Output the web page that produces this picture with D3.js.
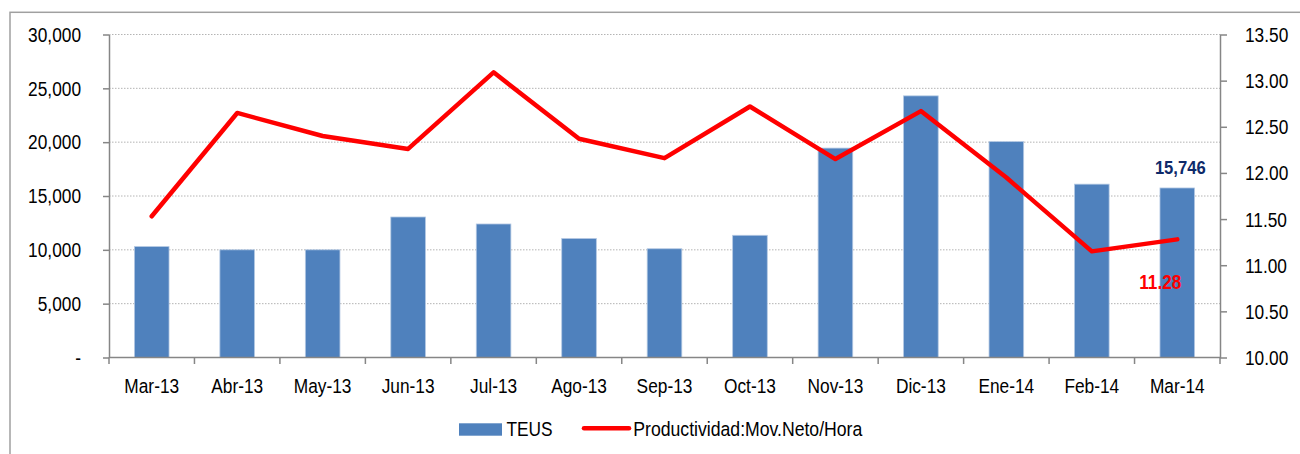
<!DOCTYPE html>
<html>
<head>
<meta charset="utf-8">
<script src="https://cdn.jsdelivr.net/npm/d3@7"></script>
<style>
  html, body { margin: 0; padding: 0; background: #fff; }
  svg { display: block; font-family: "Liberation Sans", Arial, sans-serif; }
</style>
</head>
<body>
<svg id="chart" width="1300" height="454"></svg>
<script>
const categories = ["Mar-13","Abr-13","May-13","Jun-13","Jul-13","Ago-13","Sep-13","Oct-13","Nov-13","Dic-13","Ene-14","Feb-14","Mar-14"];
const teus = [10300, 10000, 10000, 13050, 12400, 11050, 10100, 11350, 19450, 24300, 20050, 16100, 15746];
const productividad = [11.53, 12.65, 12.40, 12.26, 13.09, 12.37, 12.16, 12.72, 12.15, 12.67, 11.95, 11.15, 11.28];
const leftTicks = [0, 5000, 10000, 15000, 20000, 25000, 30000];
const rightTicks = [10.0, 10.5, 11.0, 11.5, 12.0, 12.5, 13.0, 13.5];
const seriesNames = ["TEUS", "Productividad:Mov.Neto/Hora"];

const svg = d3.select("#chart");
const W = 1300, H = 454;
const plot = { left: 109, right: 1220, top: 34.5, bottom: 357.5 };
const FS = 17.3, SY = 1.16;
const axisColor = "#868686";

// frame
svg.append("rect")
  .attr("x", 10).attr("y", 12.3).attr("width", 1320).attr("height", 500)
  .attr("fill", "none").attr("stroke", "#a0a0a0").attr("stroke-width", 1.5);

const x = d3.scaleBand().domain(categories).range([plot.left, plot.right])
  .paddingInner(0.595).paddingOuter(0.2975);
const yL = d3.scaleLinear().domain([0, 30000]).range([plot.bottom, plot.top]);
const yR = d3.scaleLinear().domain([10, 13.5]).range([plot.bottom, plot.top]);
const cx = c => x(c) + x.bandwidth() / 2;

// gridlines
svg.append("g").selectAll("line")
  .data(leftTicks.filter(t => t > 0))
  .join("line")
  .attr("x1", plot.left).attr("x2", plot.right)
  .attr("y1", d => yL(d)).attr("y2", d => yL(d))
  .attr("stroke", "#b4b4b4").attr("stroke-width", 1)
  .attr("stroke-dasharray", "1.5,1.5");

// bars
svg.append("g").selectAll("rect")
  .data(categories.map((c, i) => ({ c, v: teus[i] })))
  .join("rect")
  .attr("x", d => x(d.c)).attr("width", x.bandwidth())
  .attr("y", d => yL(d.v)).attr("height", d => yL(0) - yL(d.v))
  .attr("fill", "#4f81bd").attr("stroke", "#b3c8e3").attr("stroke-width", 0.8);

function styleAxis(g) {
  g.selectAll("path.domain").attr("stroke", axisColor).attr("stroke-width", 1.5);
  g.selectAll(".tick line").attr("stroke", axisColor).attr("stroke-width", 1.5);
  g.selectAll("text").attr("font-size", FS).attr("fill", "#000")
    .attr("font-family", "'Liberation Sans', Arial, sans-serif");
}

// left axis
const fmtL = d => d === 0 ? "-" : d3.format(",")(d);
const gL = svg.append("g").attr("transform", `translate(${plot.left},0)`)
  .call(d3.axisLeft(yL).tickValues(leftTicks).tickFormat(fmtL).tickSize(6).tickSizeOuter(0));
styleAxis(gL);
gL.selectAll("text").attr("x", null).attr("dy", null)
  .attr("transform", `translate(-28,6.8) scale(1,${SY})`).attr("text-anchor", "end");

// right axis
const gR = svg.append("g").attr("transform", `translate(${plot.right},0)`)
  .call(d3.axisRight(yR).tickValues(rightTicks).tickFormat(d3.format(".2f")).tickSize(7).tickSizeOuter(0));
styleAxis(gR);
gR.selectAll("text").attr("x", null).attr("dy", null)
  .attr("transform", `translate(25,7) scale(1,${SY})`).attr("text-anchor", "start");

// bottom axis (labels at band centres, ticks at boundaries)
const gB = svg.append("g").attr("transform", `translate(0,${plot.bottom})`)
  .call(d3.axisBottom(x).tickSize(0).tickSizeOuter(0));
styleAxis(gB);
gB.select("path.domain").attr("d", `M${plot.left},0H${plot.right}`);
gB.selectAll("text").attr("y", null).attr("dy", null)
  .attr("transform", `translate(0,35.2) scale(1,${SY})`);
const step = x.step();
const boundaries = categories.map(c => x(c) - x.paddingOuter() * step * 0 - (step - x.bandwidth()) / 2).concat([plot.right]);
gB.append("g").selectAll("line").data(boundaries).join("line")
  .attr("x1", d => d).attr("x2", d => d).attr("y1", 0).attr("y2", 6.5)
  .attr("stroke", axisColor).attr("stroke-width", 1.5);

// line
const line = d3.line().x((d, i) => cx(categories[i])).y(d => yR(d));
svg.append("path").datum(productividad)
  .attr("d", line).attr("fill", "none").attr("stroke", "#ff0000")
  .attr("stroke-width", 4.5).attr("stroke-linejoin", "round").attr("stroke-linecap", "round");

// data labels
const last = categories.length - 1;
svg.append("text")
  .attr("transform", `translate(${cx(categories[last]) + 3},${yL(teus[last]) - 14.4}) scale(1,${SY})`)
  .attr("text-anchor", "middle").attr("font-size", 16.6).attr("font-weight", "bold")
  .attr("fill", "#0e2a6a").text(d3.format(",")(teus[last]));
svg.append("text")
  .attr("transform", `translate(${cx(categories[last]) - 17},${yR(productividad[last]) + 49.3}) scale(1,${SY})`)
  .attr("text-anchor", "middle").attr("font-size", 17.2).attr("font-weight", "bold")
  .attr("fill", "#ff0000").text(d3.format(".2f")(productividad[last]));

// legend
const lg = svg.append("g");
lg.append("rect").attr("x", 459).attr("y", 423.3).attr("width", 43).attr("height", 12.4).attr("fill", "#4f81bd");
lg.append("text").attr("transform", `translate(506.5,436) scale(1,${SY})`)
  .attr("font-size", FS).attr("fill", "#000").text(seriesNames[0]);
lg.append("line").attr("x1", 584).attr("x2", 629).attr("y1", 428.3).attr("y2", 428.3)
  .attr("stroke", "#ff0000").attr("stroke-width", 4.5).attr("stroke-linecap", "round");
lg.append("text").attr("transform", `translate(633.3,436) scale(1,${SY})`)
  .attr("font-size", FS).attr("fill", "#000").attr("textLength", 229).attr("lengthAdjust", "spacingAndGlyphs")
  .text(seriesNames[1]);
</script>
</body>
</html>
